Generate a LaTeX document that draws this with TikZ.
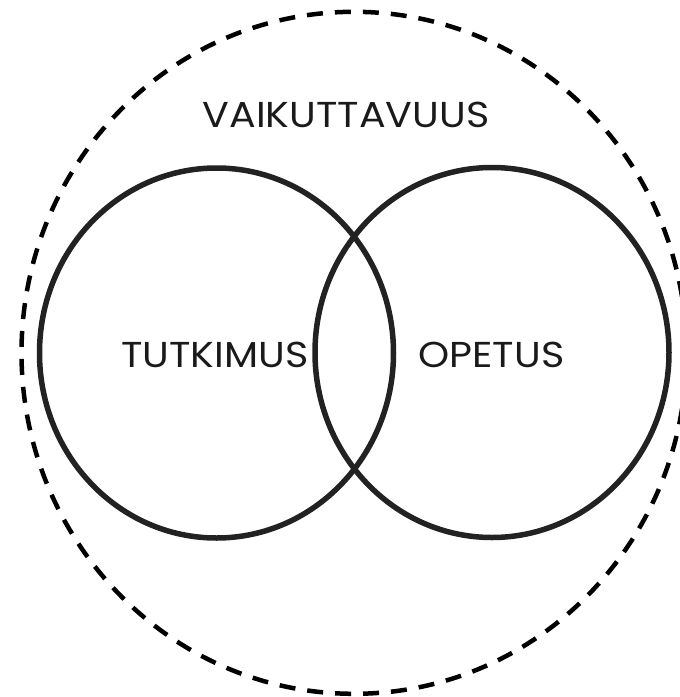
\documentclass[tikz,border=0pt]{standalone}
\usepackage{fontspec}
\usepackage{graphicx}
\setmainfont{Poppins}
\definecolor{ringgray}{HTML}{222222}
\definecolor{txt}{HTML}{1A1A1A}
\newcommand{\widetxt}[1]{\scalebox{1.1}[1.0]{#1}}
\begin{document}
\begin{tikzpicture}[x=1pt,y=-1pt,
  ring/.style={draw=ringgray,line width=5.5pt},
  outer/.style={draw=black,line width=4.5pt,dash pattern=on 16pt off 12pt},
  lbl/.style={text=txt,font=\fontsize{36}{40}\selectfont,inner sep=0pt}]
\useasboundingbox (0,0) rectangle (680,697);
\draw[outer] (354,352.8) ellipse [x radius=332.5, y radius=341];
\draw[ring] (216.5,353) ellipse [x radius=177, y radius=185];
\draw[ring] (492,352.5) ellipse [x radius=177, y radius=185];
\node[lbl] (vaik) at (346,115) {\widetxt{VAIKUTTAVUUS}};
\node[lbl] (tutk) at (214.7,355) {\widetxt{TUTKIMUS}};
\node[lbl] (opet) at (491.5,355) {\widetxt{OPETUS}};
\end{tikzpicture}
\end{document}
